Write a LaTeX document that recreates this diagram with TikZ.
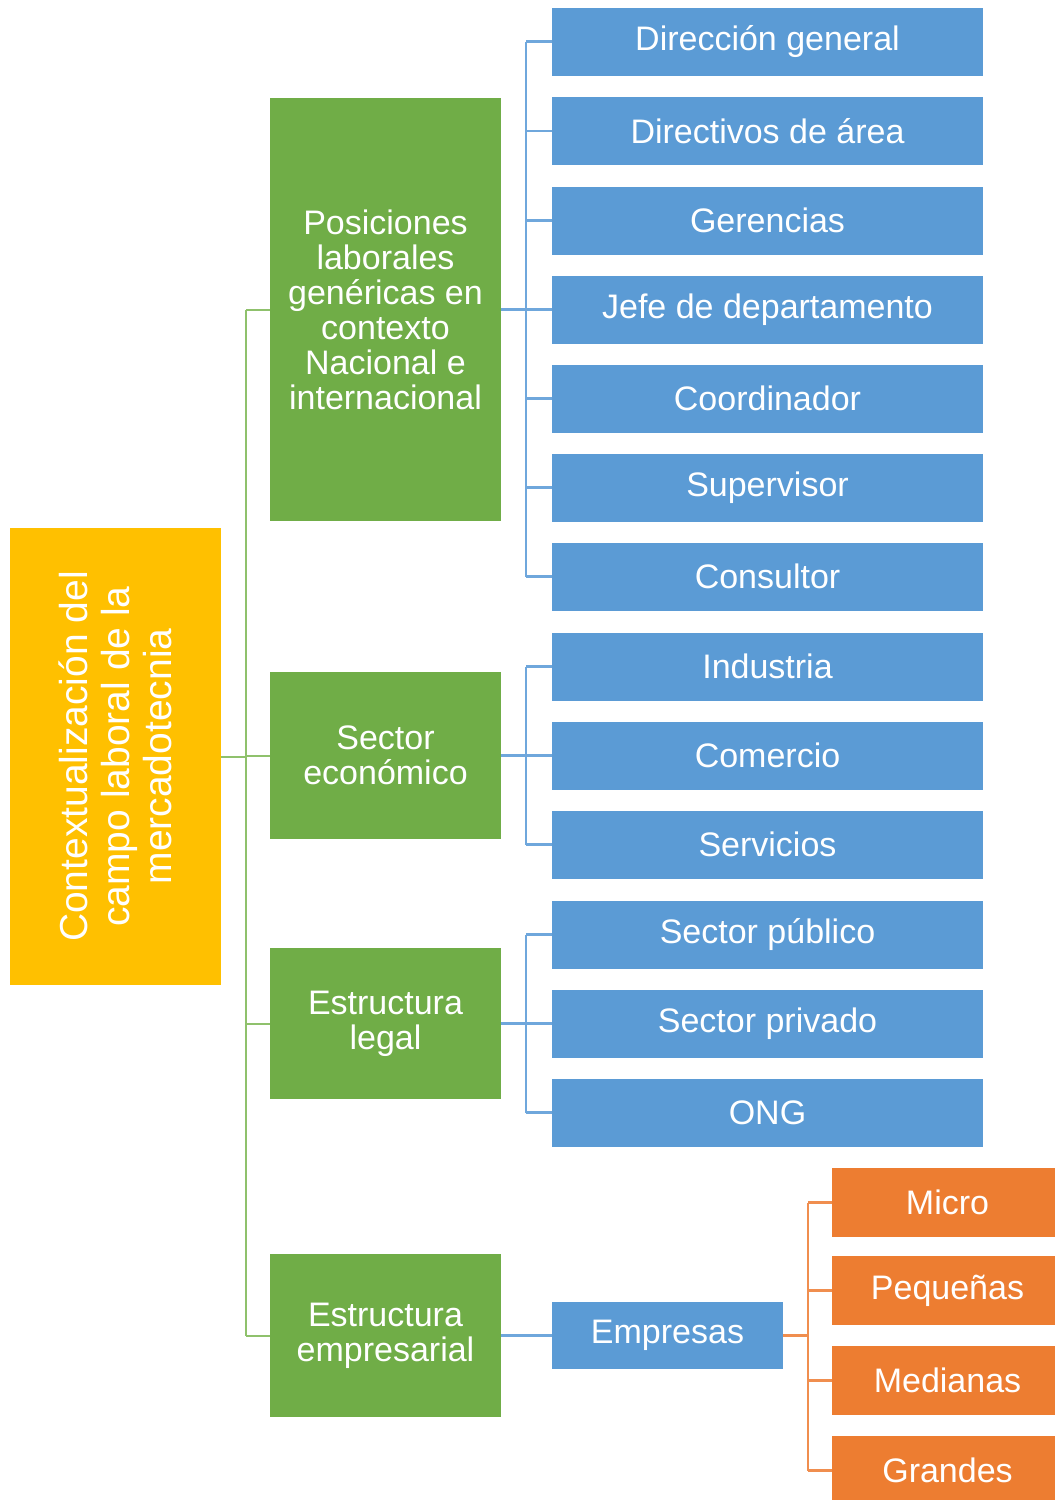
\documentclass[tikz,border=0pt]{standalone}
\usepackage{fontspec}
\setmainfont{Liberation Sans}
\definecolor{cgold}{HTML}{FFC000}
\definecolor{cgreen}{HTML}{70AD47}
\definecolor{cblue}{HTML}{5B9BD5}
\definecolor{corange}{HTML}{ED7D31}
\definecolor{lgreen}{HTML}{8FC16C}
\definecolor{lblue}{HTML}{6FA7DC}
\definecolor{lorange}{HTML}{F08E4F}
\tikzset{
  base/.style={draw=none, text=white, inner sep=0pt, align=center, font=\fontsize{34}{35}\selectfont},
  rootbox/.style={base, fill=cgold, minimum width=211pt, minimum height=457pt},
  greenbox/.style={base, fill=cgreen, minimum width=231pt},
  bluebox/.style={base, fill=cblue, minimum width=431pt, minimum height=68pt},
  empbox/.style={base, fill=cblue, minimum width=231pt, minimum height=67pt},
  orbox/.style={base, fill=corange, minimum width=231pt, minimum height=69pt},
  gline/.style={draw=lgreen, line width=2pt},
  bline/.style={draw=lblue, line width=2.2pt},
  oline/.style={draw=lorange, line width=2.2pt},
}
\begin{document}
\begin{tikzpicture}[x=1pt,y=-1pt]
\useasboundingbox (0,0) rectangle (1055,1500);
% root
\node[rootbox] (root) at (115.5,756.5) {};
\node[base, rotate=90, font=\fontsize{39}{42}\selectfont] (roottext) at (root.center) {Contextualización del\\campo laboral de la\\mercadotecnia};
% green
\node[greenbox, minimum height=423pt] (g1) at (385.5,309.5) {Posiciones\\laborales\\genéricas en\\contexto\\Nacional e\\internacional};
\node[greenbox, minimum height=167pt] (g2) at (385.5,755.5) {Sector\\económico};
\node[greenbox, minimum height=151pt] (g3) at (385.5,1023.5) {Estructura\\legal};
\node[greenbox, minimum height=163pt] (g4) at (385.5,1335.5) {Estructura\\empresarial};
% blue
\node[bluebox] (b1) at (767.5,41.5) {Dirección general};
\node[bluebox] (b2) at (767.5,131) {Directivos de área};
\node[bluebox] (b3) at (767.5,220.5) {Gerencias};
\node[bluebox] (b4) at (767.5,309.5) {Jefe de departamento};
\node[bluebox] (b5) at (767.5,398.5) {Coordinador};
\node[bluebox] (b6) at (767.5,487.5) {Supervisor};
\node[bluebox] (b7) at (767.5,576.5) {Consultor};
\node[bluebox] (b8) at (767.5,666.5) {Industria};
\node[bluebox] (b9) at (767.5,755.5) {Comercio};
\node[bluebox] (b10) at (767.5,844.5) {Servicios};
\node[bluebox] (b11) at (767.5,934.5) {Sector público};
\node[bluebox] (b12) at (767.5,1023.5) {Sector privado};
\node[bluebox] (b13) at (767.5,1112.5) {ONG};
\node[empbox] (emp) at (667.5,1335.5) {Empresas};
% orange
\node[orbox] (o1) at (947.5,1202.5) {Micro};
\node[orbox] (o2) at (947.5,1290.5) {Pequeñas};
\node[orbox] (o3) at (947.5,1380.5) {Medianas};
\node[orbox] (o4) at (947.5,1470.5) {Grandes};
% coordinates for trunks
\coordinate (tg) at (246,0);
\coordinate (tb) at (526,0);
\coordinate (to) at (808,0);
% root connectors
\draw[gline] (root.east) -- (root.east -| tg);
\draw[gline] (g1.west -| tg) -- (g4.west -| tg);
\foreach \g in {g1,g2,g3,g4} \draw[gline] (\g.west -| tg) -- (\g.west);
% blue connectors
\draw[bline] (b1.west -| tb) -- (b7.west -| tb);
\draw[bline] (g1.east) -- (g1.east -| tb);
\foreach \b in {b1,b2,b3,b4,b5,b6,b7} \draw[bline] (\b.west -| tb) -- (\b.west);
\draw[bline] (b8.west -| tb) -- (b10.west -| tb);
\draw[bline] (g2.east) -- (g2.east -| tb);
\foreach \b in {b8,b9,b10} \draw[bline] (\b.west -| tb) -- (\b.west);
\draw[bline] (b11.west -| tb) -- (b13.west -| tb);
\draw[bline] (g3.east) -- (g3.east -| tb);
\foreach \b in {b11,b12,b13} \draw[bline] (\b.west -| tb) -- (\b.west);
\draw[bline] (g4.east) -- (emp.west);
% orange connectors
\draw[oline] (o1.west -| to) -- (o4.west -| to);
\draw[oline, line width=3pt] (emp.east) -- (emp.east -| to);
\foreach \o in {o1,o2,o3,o4} \draw[oline] (\o.west -| to) -- (\o.west);
\end{tikzpicture}
\end{document}
